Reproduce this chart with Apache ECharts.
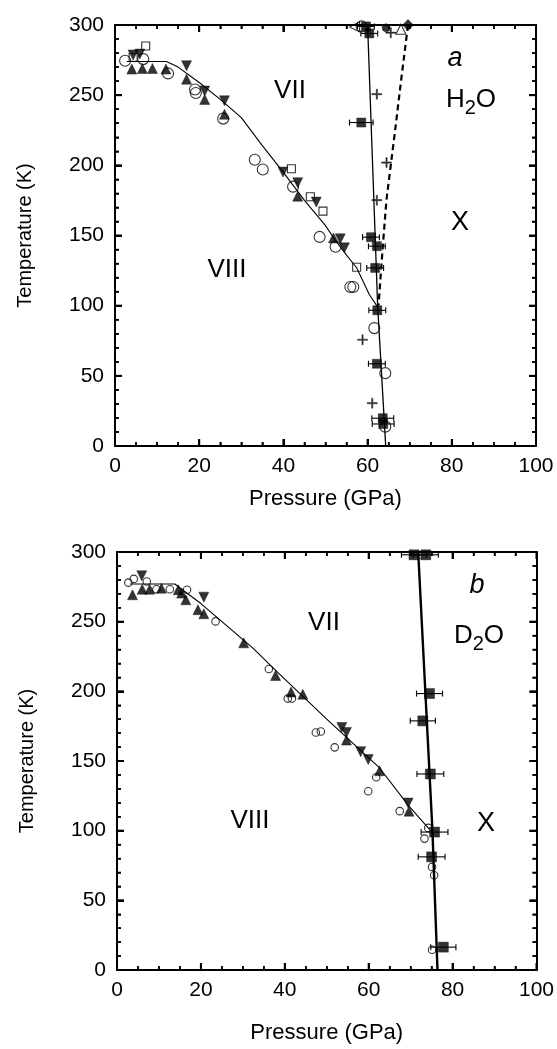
<!DOCTYPE html>
<html><head><meta charset="utf-8">
<script src="https://cdn.jsdelivr.net/npm/echarts@6/dist/echarts.min.js"></script>
<style>html,body{margin:0;padding:0;background:#fff}#ca{width:557px;height:525px}#cb{width:557px;height:524px}</style>
</head><body><div id="ca"></div><div id="cb"></div>
<script>
// ---------- Panel a (H2O) ----------
const aBoundaryVII_VIII = [[2.8,274],[12.2,274],[15,270],[20,259],[25,247],[30,234],[35,214],[40,195],[45,175],[50,157],[52,148],[55,136],[57.4,127],[60.4,108],[62.4,99]];
const aBoundaryX = [[60,300],[62.4,99],[64.3,0]];
const aBoundaryDashed = [[69.6,300],[68.1,264],[66.5,224],[65.5,200],[64.5,176],[63.6,142],[62.6,100]];
const aSquaresFilled = [[59.6,299],[60.4,294],[58.5,230.5],[60.8,148.8],[62.2,142.4],[61.8,126.9],[62.3,96.7],[62.2,58.6],[63.6,19.8],[63.7,15.7]];
const aSquaresErr = [2,2,2.8,2,2,2,2,2,2.6,2.6];
const aCirclesOpen = [[2.4,274.5],[6.7,275.7],[12.6,265.5],[19,254],[19.2,251.5],[25.7,233.3],[33.2,204],[35.1,197],[42.3,184.8],[48.6,149],[52.4,142],[55.9,113.3],[56.6,113.3],[61.6,84],[64.2,51.9],[64.2,13.8],[58.6,299]];
const aSquaresOpen = [[4.3,277],[7.3,285],[41.9,197.6],[46.4,177.6],[49.4,167.4],[57.4,127.4]];
const aTriUp = [[4,268.6],[6.5,269],[8.9,269],[12.1,268.6],[17,261.4],[21.3,247],[26,236.4],[43.4,178],[51.9,148.3]];
const aTriDown = [[4.3,278.6],[5.9,279.3],[17,271],[21.3,253],[26,246],[39.9,195.2],[43.4,187.6],[47.8,173.8],[53.5,147.6],[54.5,141.2]];
const aPlus = [[62.2,250.7],[64.5,202],[62.2,175.2],[58.8,75.7],[61.1,30.5],[65.5,294.5]];
const aTriLeftOpen = [[56.9,298.6]];
const aCircleFilled = [[64.4,298]];
const aTriOpen = [[67.9,297]];
const aDiamondFilled = [[69.6,300]];

// ---------- Panel b (D2O) ----------
const bBoundaryVII_VIII = [[3.1,277],[13.8,277],[16,272],[20,263],[32.4,231],[38.5,213],[50,180],[62.6,145],[69.5,118],[74.5,101]];
const bBoundaryX = [[71.8,300],[75.2,100],[76.4,0]];
const bSquaresFilled = [[70.8,298],[73.6,298],[74.5,198.4],[72.9,178.8],[74.7,140.7],[75.7,99],[75,81.2],[77.8,16.4]];
const bSquaresErr = [3,3,3.1,3,3.2,3.2,3.2,3];
const bCirclesOpen = [[2.7,278],[4,280.7],[7.1,278.8],[9.4,273.3],[12.6,273.3],[16.7,272.9],[23.5,250.2],[36.2,216],[40.7,194.8],[41.7,194.8],[47.4,170.5],[48.6,171.2],[51.9,159.8],[61.8,138.3],[59.9,128.3],[67.4,114],[74.2,102],[73.3,94.3],[75.1,74],[75.6,68],[75.1,14.5]];
const bTriUp = [[3.7,269.3],[6,273.3],[7.8,273.3],[10.6,274],[14.6,272.9],[15.4,270.5],[16.4,265.7],[19.3,258.6],[20.7,255.7],[30.2,234.8],[37.8,211.4],[41.5,199.5],[44.3,197.9],[54.7,165],[62.6,143],[69.6,114]];
const bTriDown = [[5.9,282.9],[20.7,267.6],[53.6,174],[54.7,170.5],[58.1,156.7],[59.9,151],[69.4,119.8]];

// ---------- axes / ticks ----------
const xTicks = [0,20,40,60,80,100];
const yTicks = [0,50,100,150,200,250,300];
const xMinorTicks = [5,10,15,25,30,35,45,50,55,65,70,75,85,90,95];
const yMinorTicks = [10,20,30,40,60,70,80,90,110,120,130,140,160,170,180,190,210,220,230,240,260,270,280,290];

const FONT = '"Liberation Sans", Arial, Helvetica, sans-serif';
const BLACK = '#000';
const X0 = xTicks[0], X1 = xTicks[xTicks.length-1], Y0 = yTicks[0], Y1 = yTicks[yTicks.length-1];

function xAxis(position, showLabel, nameGap) {
  return {
    type:'value', position, min:X0, max:X1, interval:20,
    name: showLabel ? 'Pressure (GPa)' : '', nameLocation:'middle', nameGap,
    nameTextStyle:{fontFamily:FONT, fontSize:22, color:BLACK},
    axisLine:{show:true, onZero:false, lineStyle:{color:BLACK, width:2}},
    axisTick:{show:true, inside:true, length:7, lineStyle:{color:BLACK, width:2}},
    minorTick:{show:true, splitNumber:4, length:4, lineStyle:{color:BLACK, width:1.5}},
    splitLine:{show:false}, minorSplitLine:{show:false},
    axisLabel:{show:showLabel, fontFamily:FONT, fontSize:21, color:BLACK, margin:10}
  };
}
function yAxis(position, showLabel) {
  return {
    type:'value', position, min:Y0, max:Y1, interval:50,
    name: showLabel ? 'Temperature (K)' : '', nameLocation:'middle', nameGap:80, nameRotate:90,
    nameTextStyle:{fontFamily:FONT, fontSize:20, color:BLACK},
    axisLine:{show:true, onZero:false, lineStyle:{color:BLACK, width:2}},
    axisTick:{show:true, inside:true, length:7, lineStyle:{color:BLACK, width:2}},
    minorTick:{show:true, splitNumber:5, length:4, lineStyle:{color:BLACK, width:1.5}},
    splitLine:{show:false}, minorSplitLine:{show:false},
    axisLabel:{show:showLabel, fontFamily:FONT, fontSize:21, color:BLACK, margin:11}
  };
}

// inward tick marks on all four sides, positioned through the axis scales
function tickRender(params, api) {
  const isX = api.value(3) === 0;
  const v = isX ? api.value(0) : api.value(1), len = api.value(2);
  const w = len > 5 ? 2 : 1.5, st = {stroke:BLACK, lineWidth:w};
  if (isX) {
    const b = api.coord([v, Y0]), t = api.coord([v, Y1]);
    return {type:'group', children:[
      {type:'line', shape:{x1:b[0], y1:b[1], x2:b[0], y2:b[1]-len}, style:st},
      {type:'line', shape:{x1:t[0], y1:t[1], x2:t[0], y2:t[1]+len}, style:st}
    ]};
  }
  const l = api.coord([X0, v]), r = api.coord([X1, v]);
  return {type:'group', children:[
    {type:'line', shape:{x1:l[0], y1:l[1], x2:l[0]+len, y2:l[1]}, style:st},
    {type:'line', shape:{x1:r[0], y1:r[1], x2:r[0]-len, y2:r[1]}, style:st}
  ]};
}
function tickSeries() {
  const data = [].concat(
    xTicks.map(v=>[v, Y0, 7, 0]), xMinorTicks.map(v=>[v, Y0, 4, 0]),
    yTicks.map(v=>[X0, v, 7, 1]), yMinorTicks.map(v=>[X0, v, 4, 1]));
  return {type:'custom', xAxisIndex:0, yAxisIndex:0, renderItem:tickRender, clip:false, z:5, silent:true, data, encode:{x:0, y:1}};
}

function lineSeries(data, width, dashed) {
  return {type:'line', data, xAxisIndex:0, yAxisIndex:0, symbol:'none', smooth:false, clip:false, z:2,
    lineStyle:{color:BLACK, width, type: dashed ? [6,4] : 'solid'}, silent:true};
}
function scatter(data, symbol, size, filled, rotate) {
  return {type:'scatter', data, xAxisIndex:0, yAxisIndex:0, symbol, symbolSize:size, symbolRotate:rotate||0, clip:false, z:4,
    itemStyle: filled ? {color:BLACK, borderColor:BLACK, borderWidth:0.5} : {color:'rgba(255,255,255,0)', borderColor:BLACK, borderWidth:1.1}, silent:true};
}
function errRender(params, api) {
  const p = api.value(0), t = api.value(1), e = api.value(2);
  const a = api.coord([p - e, t]), b = api.coord([p + e, t]);
  const h = 3, st = {stroke:BLACK, lineWidth:1.1};
  return {type:'group', children:[
    {type:'line', shape:{x1:a[0],y1:a[1],x2:b[0],y2:b[1]}, style:st},
    {type:'line', shape:{x1:a[0],y1:a[1]-h,x2:a[0],y2:a[1]+h}, style:st},
    {type:'line', shape:{x1:b[0],y1:b[1]-h,x2:b[0],y2:b[1]+h}, style:st}
  ]};
}
function errSeries(pts, errs) {
  return {type:'custom', xAxisIndex:0, yAxisIndex:0, renderItem:errRender, clip:false, z:3, silent:true,
    data: pts.map((d,i)=>[d[0], d[1], errs[i]]), encode:{x:0, y:1}};
}
const PLUS = 'path://M4.4,0H5.6V4.4H10V5.6H5.6V10H4.4V5.6H0V4.4H4.4Z';

function txt(x, y, text, size, extra) {
  return {type:'text', x, y, style:Object.assign({text, fill:BLACK, fontFamily:FONT, fontSize:size, align:'center', verticalAlign:'middle'}, extra||{})};
}
function formula(x, y, a, b) {
  return {type:'text', x, y, style:{text:'{m|'+a+'}{s|2}{m|'+b+'}', align:'center', verticalAlign:'middle',
    rich:{m:{fontFamily:FONT, fontSize:26, fill:BLACK, color:BLACK}, s:{fontFamily:FONT, fontSize:20, fill:BLACK, color:BLACK, padding:[16,0,0,0]}}}};
}

function panel(elId, grid, nameGap, series, graphic) {
  const ch = echarts.init(document.getElementById(elId), null, {renderer:'canvas'});
  ch.setOption({
    animation:false,
    grid:[grid],
    xAxis:[xAxis('bottom', true, nameGap), xAxis('top', false, 0)],
    yAxis:[yAxis('left', true), yAxis('right', false)],
    series: series.concat([tickSeries()]),
    graphic
  });
}

panel('ca', {left:115, top:25, width:421, height:421}, 42, [
  lineSeries(aBoundaryVII_VIII, 1.1),
  lineSeries(aBoundaryX, 1.3),
  lineSeries(aBoundaryDashed, 2.2, true),
  errSeries(aSquaresFilled, aSquaresErr),
  scatter(aCirclesOpen, 'circle', 11, false),
  scatter(aSquaresOpen, 'rect', 8, false),
  scatter(aTriUp, 'triangle', 10, true),
  scatter(aTriDown, 'triangle', 10, true, 180),
  scatter(aPlus, PLUS, 10, true),
  scatter(aTriLeftOpen, 'triangle', 10, false, 90),
  scatter(aCircleFilled, 'circle', 8, true),
  scatter(aTriOpen, 'triangle', 10, false),
  scatter(aDiamondFilled, 'diamond', 11, true),
  scatter(aSquaresFilled, 'rect', 9, true)
], [
  txt(290, 91, 'VII', 26),
  txt(227, 270, 'VIII', 26),
  txt(460, 223, 'X', 27),
  txt(455, 58, 'a', 27, {fontStyle:'italic'}),
  formula(471, 100, 'H', 'O')
]);

panel('cb', {left:117, top:27, width:420, height:420}, 52, [
  lineSeries(bBoundaryVII_VIII, 1.1),
  lineSeries(bBoundaryX, 2.4),
  errSeries(bSquaresFilled, bSquaresErr),
  scatter(bCirclesOpen, 'circle', 7.5, false),
  scatter(bTriUp, 'triangle', 10, true),
  scatter(bTriDown, 'triangle', 10, true, 180),
  scatter(bSquaresFilled, 'rect', 10, true)
], [
  txt(324, 98, 'VII', 26),
  txt(250, 296, 'VIII', 26),
  txt(486, 299, 'X', 27),
  txt(477, 60, 'b', 27, {fontStyle:'italic'}),
  formula(479, 111, 'D', 'O')
]);
</script>
</body></html>
